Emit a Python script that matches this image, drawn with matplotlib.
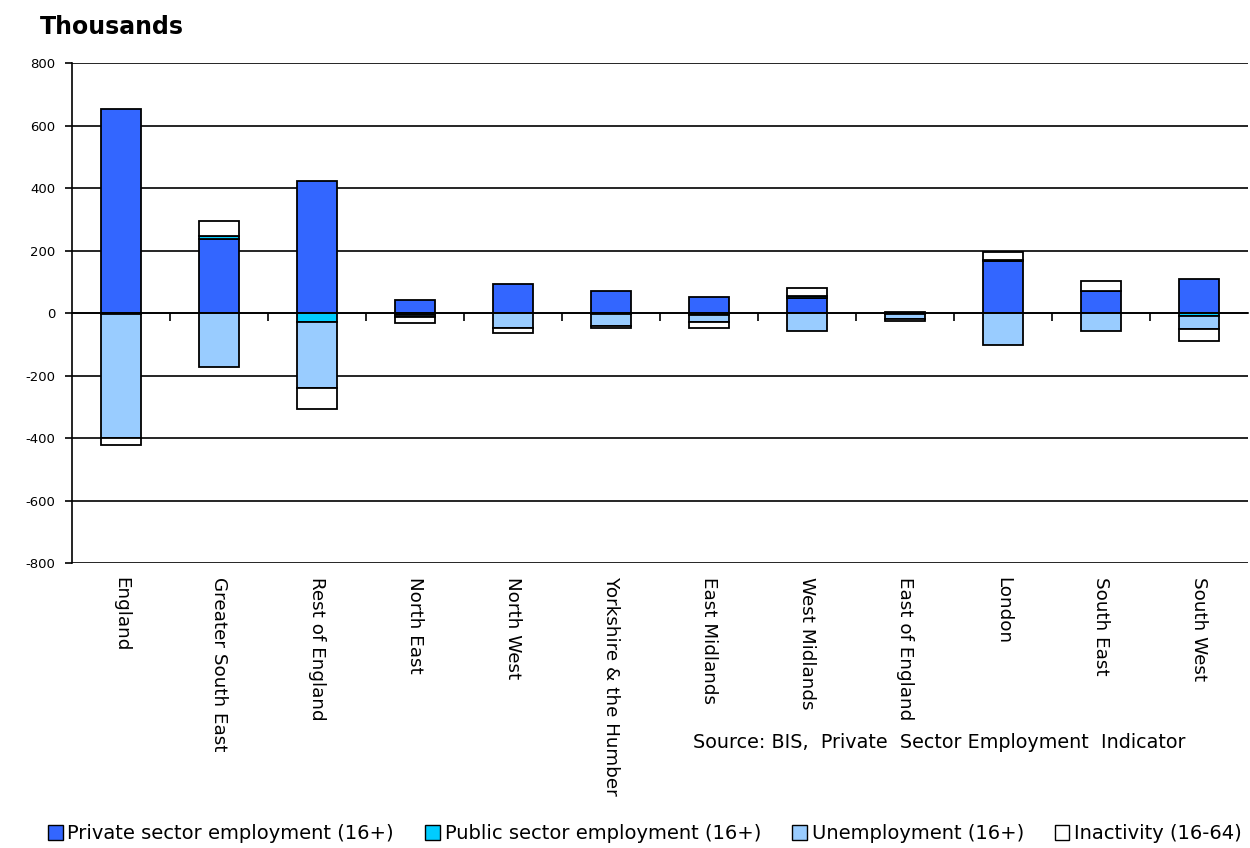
import numpy as np
import matplotlib
matplotlib.use('Agg')
import matplotlib.pyplot as plt
from matplotlib.patches import Patch
from matplotlib.ticker import FixedLocator, NullFormatter

# regions and the change in each component (thousands)
regions = ['England', 'Greater South East', 'Rest of England', 'North East',
           'North West', 'Yorkshire & the Humber', 'East Midlands', 'West Midlands',
           'East of England', 'London', 'South East', 'South West']
private = [653, 237, 422, 42, 94, 69, 51, 48, 3, 165, 71, 110]
public = [-4, 10, -28, -5, -1, -2, -5, 6, -2, 6, 0, -10]
unemployment = [-396, -173, -212, -9, -46, -40, -24, -57, -18, -102, -59, -40]
inactivity = [-22, 47, -67, -18, -18, -5, -19, 25, -5, 24, 32, -41]

series_names = ['Private sector employment (16+)', 'Public sector employment (16+)',
                'Unemployment (16+)', 'Inactivity (16-64)']
series_colors = ['#3366FF', '#00CCFF', '#99CCFF', '#FFFFFF']

plt.rcParams['axes.unicode_minus'] = False

fig = plt.figure(figsize=(12.5, 8.48), dpi=100)
ax = fig.add_axes([0.0576, 0.336, 0.9408, 0.5897])

x = np.arange(len(regions))
pos_base = np.zeros(len(regions))
neg_base = np.zeros(len(regions))
for vals, col in zip([private, public, unemployment, inactivity], series_colors):
    v = np.array(vals, dtype=float)
    bottom = np.where(v >= 0, pos_base, neg_base)
    ax.bar(x, v, width=0.41, bottom=bottom, color=col, edgecolor='black',
           linewidth=1.3, zorder=3)
    pos_base += np.where(v >= 0, v, 0)
    neg_base += np.where(v < 0, v, 0)

ax.set_xlim(-0.5, len(regions) - 0.5)
ax.set_ylim(-800, 800)
ax.set_yticks(np.arange(-800, 801, 200))
ax.tick_params(axis='y', direction='out', length=5, width=1.2, labelsize=9.5, pad=7)
ax.yaxis.grid(True, color='black', linewidth=1.2, zorder=1)
ax.set_axisbelow(True)

for s in ['top', 'right']:
    ax.spines[s].set_visible(False)
ax.spines['left'].set_linewidth(1.2)
ax.spines['bottom'].set_position(('data', 0))
ax.spines['bottom'].set_linewidth(1.2)
ax.spines['bottom'].set_zorder(4)

# x ticks at category boundaries, on the zero line
ax.xaxis.set_major_locator(FixedLocator(np.arange(0.5, len(regions) - 1, 1.0)))
ax.xaxis.set_major_formatter(NullFormatter())
ax.tick_params(axis='x', direction='out', length=6, width=1.2)

# category labels below the plot
trans = ax.get_xaxis_transform()
for xi, name in zip(x, regions):
    ax.text(xi, -0.028, name, transform=trans, rotation=270,
            ha='center', va='top', fontsize=13.2)

fig.text(0.032, 0.968, 'Thousands', fontsize=17, fontweight='bold', ha='left', va='center')
fig.text(0.554, 0.124, 'Source: BIS,  Private  Sector Employment  Indicator',
         fontsize=13.8, ha='left', va='center')

handles = [Patch(facecolor=c, edgecolor='black', linewidth=1.0) for c in series_colors]
fig.legend(handles, series_names, loc='lower center', bbox_to_anchor=(0.516, -0.015),
           ncol=4, frameon=False, handlelength=0.75, handleheight=0.75,
           handletextpad=0.25, columnspacing=1.6, prop={'size': 14})

fig.savefig('out.png', dpi=100)
